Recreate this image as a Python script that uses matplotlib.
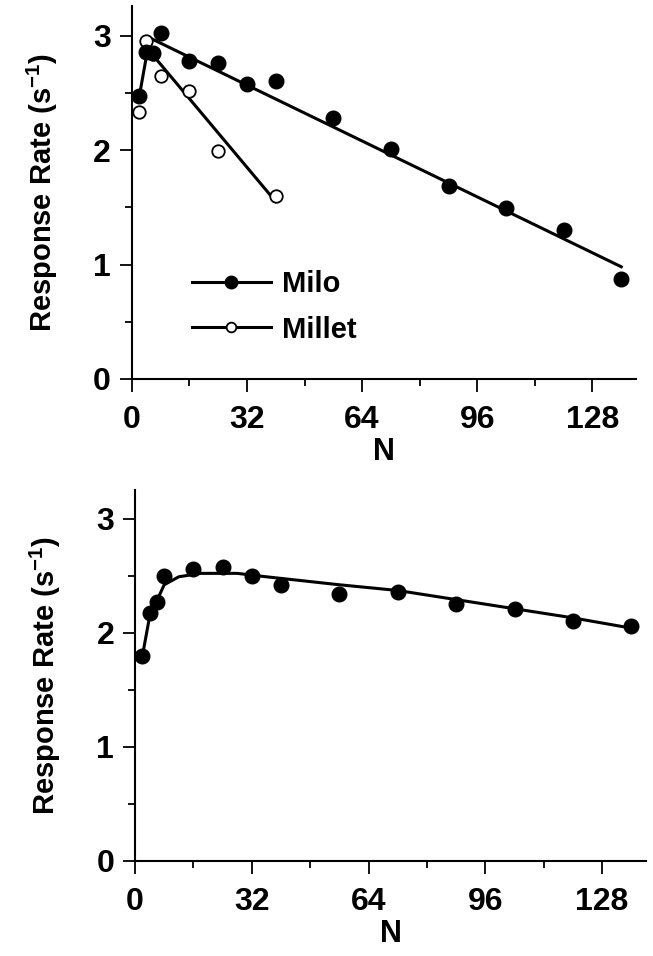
import matplotlib
matplotlib.use("Agg")
import matplotlib.pyplot as plt
from matplotlib.ticker import MultipleLocator

plt.rcParams["font.family"] = ["Liberation Sans", "DejaVu Sans"]
plt.rcParams["font.weight"] = "bold"
plt.rcParams["axes.labelweight"] = "bold"
plt.rcParams["mathtext.default"] = "bf"

# top panel: Milo and Millet
milo_n = [2, 4, 6, 8, 16, 24, 32, 40, 56, 72, 88, 104, 120, 136]
milo_rate = [2.47, 2.86, 2.85, 3.02, 2.78, 2.76, 2.58, 2.60, 2.28, 2.01, 1.69, 1.49, 1.30, 0.87]
milo_fit_n = [2, 5, 136]
milo_fit_rate = [2.45, 2.98, 0.98]

millet_n = [2, 4, 6, 8, 16, 24, 40]
millet_rate = [2.33, 2.95, 2.84, 2.65, 2.52, 1.99, 1.60]
millet_fit_n = [4, 40]
millet_fit_rate = [2.90, 1.55]

# bottom panel
low_n = [2, 4, 6, 8, 16, 24, 32, 40, 56, 72, 88, 104, 120, 136]
low_rate = [1.80, 2.17, 2.27, 2.50, 2.56, 2.58, 2.50, 2.42, 2.34, 2.36, 2.25, 2.21, 2.10, 2.06]
low_fit_n = [2, 4, 8, 12, 18, 28, 36, 56, 72, 88, 104, 120, 136]
low_fit_rate = [1.79, 2.14, 2.42, 2.49, 2.52, 2.52, 2.49, 2.42, 2.37, 2.29, 2.21, 2.13, 2.04]

x_ticks = [0, 32, 64, 96, 128]
y_ticks = [0, 1, 2, 3]

fig = plt.figure(figsize=(6.53, 9.56), dpi=100)
ax1 = fig.add_axes([0.2017, 0.6036, 0.7718, 0.3903])
ax2 = fig.add_axes([0.2067, 0.0994, 0.7825, 0.3880])

ylabel = r"Response Rate (s$^{\mathregular{-1}}$)"

for ax, ymax in ((ax1, 3.26), (ax2, 3.25)):
    ax.set_xlim(0, 140)
    ax.set_ylim(0, ymax)
    ax.set_xticks(x_ticks)
    ax.set_yticks(y_ticks)
    ax.xaxis.set_minor_locator(MultipleLocator(16))
    ax.yaxis.set_minor_locator(MultipleLocator(0.5))
    ax.spines["top"].set_visible(False)
    ax.spines["right"].set_visible(False)
    ax.spines["left"].set_linewidth(1.5)
    ax.spines["bottom"].set_linewidth(1.5)
    ax.tick_params(which="major", length=9, width=1.3, labelsize=23)
    ax.tick_params(which="minor", length=5, width=1.3)
    ax.tick_params(axis="x", which="major", pad=9.5)
    ax.tick_params(axis="y", which="major", pad=6)
    ax.set_xlabel("N", fontsize=22, labelpad=2)
    ax.set_ylabel(ylabel, fontsize=21, labelpad=24)
    ax.patch.set_visible(False)

# top panel
ax1.plot(milo_fit_n, milo_fit_rate, color="black", lw=2.2, zorder=2)
ax1.plot(millet_fit_n, millet_fit_rate, color="black", lw=2.2, zorder=2)
ax1.plot(millet_n, millet_rate, "o", ms=9, mfc="white", mec="black", mew=1.3, zorder=3)
ax1.plot(milo_n, milo_rate, "o", ms=10.5, color="black", zorder=4)

h1, = ax1.plot([], [], "-o", color="black", lw=2.2, ms=9, label="Milo")
h2, = ax1.plot([], [], "-o", color="black", lw=2.2, ms=7, mfc="white", mew=1.3, label="Millet")
ax1.legend(handles=[h1, h2], loc="upper left", bbox_to_anchor=(192 / 653, 1 - 270 / 956),
           bbox_transform=fig.transFigure, frameon=False, fontsize=21, numpoints=1,
           handlelength=2.7, handletextpad=0.4, borderpad=0, borderaxespad=0,
           labelspacing=0.6)

# bottom panel
ax2.plot(low_fit_n, low_fit_rate, color="black", lw=2.2, zorder=2)
ax2.plot(low_n, low_rate, "o", ms=10.5, color="black", zorder=4)

fig.savefig("out.png", dpi=100)
